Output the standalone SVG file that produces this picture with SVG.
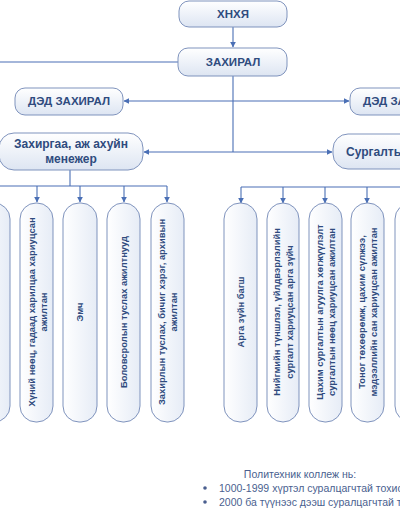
<svg xmlns="http://www.w3.org/2000/svg" width="400" height="516" viewBox="0 0 400 516">
<defs>
<linearGradient id="g" x1="0" y1="0" x2="0" y2="1">
<stop offset="0" stop-color="#ffffff"/>
<stop offset="1" stop-color="#dde5f2"/>
</linearGradient>
<linearGradient id="gv" x1="0" y1="0" x2="1" y2="0">
<stop offset="0" stop-color="#ffffff"/>
<stop offset="1" stop-color="#e6ecf6"/>
</linearGradient>
<marker id="ah" viewBox="0 0 10 10" refX="9" refY="5" markerWidth="6" markerHeight="6" orient="auto" markerUnits="userSpaceOnUse">
<path d="M0,0 L10,5 L0,10 z" fill="#4a6fb5"/>
</marker>
</defs>
<style>
.box{fill:url(#g);stroke:#7f93bd;stroke-width:1}
.vbox{fill:url(#gv);stroke:#7f93bd;stroke-width:1}
.t{font-family:"Liberation Sans",Arial,sans-serif;font-weight:bold;fill:#2f4b7e;text-anchor:middle}
.h{font-size:11.5px}
.m{font-size:12px}
.v{font-size:9.4px}
.c{fill:none;stroke:#4a6fb5;stroke-width:1.1}
.note{font-family:"Liberation Sans",Arial,sans-serif;font-size:10.5px;fill:#4a5f8f}
</style>
<rect width="400" height="516" fill="#ffffff"/>

<g id="connectors">
<line class="c" x1="233" y1="27" x2="233" y2="47" marker-end="url(#ah)"/>
<line class="c" x1="0" y1="62" x2="178" y2="62"/>
<line class="c" x1="233" y1="76" x2="233" y2="152"/>
<line class="c" x1="233" y1="101" x2="124" y2="101" marker-end="url(#ah)"/>
<line class="c" x1="233" y1="101" x2="349" y2="101" marker-end="url(#ah)"/>
<line class="c" x1="233" y1="152" x2="144" y2="152" marker-end="url(#ah)"/>
<line class="c" x1="233" y1="152" x2="332" y2="152" marker-end="url(#ah)"/>
<line class="c" x1="70" y1="170" x2="70" y2="186"/>
<line class="c" x1="0" y1="186" x2="167" y2="186"/>
<line class="c" x1="37" y1="186" x2="37" y2="202" marker-end="url(#ah)"/>
<line class="c" x1="80" y1="186" x2="80" y2="202" marker-end="url(#ah)"/>
<line class="c" x1="124" y1="186" x2="124" y2="202" marker-end="url(#ah)"/>
<line class="c" x1="167" y1="186" x2="167" y2="202" marker-end="url(#ah)"/>
<line class="c" x1="241" y1="187" x2="400" y2="187"/>
<line class="c" x1="241" y1="187" x2="241" y2="203" marker-end="url(#ah)"/>
<line class="c" x1="283" y1="187" x2="283" y2="203" marker-end="url(#ah)"/>
<line class="c" x1="325" y1="187" x2="325" y2="203" marker-end="url(#ah)"/>
<line class="c" x1="367" y1="187" x2="367" y2="203" marker-end="url(#ah)"/>
</g>

<g id="khnkhya">
<rect class="box" x="179" y="1" width="108" height="26" rx="10"/>
<text class="t h" x="233" y="18">ХНХЯ</text>
</g>
<g id="zakhiral">
<rect class="box" x="178" y="48" width="109" height="28" rx="10"/>
<text class="t h" x="233" y="66">ЗАХИРАЛ</text>
</g>
<g id="ded-zakhiral-left">
<rect class="box" x="15" y="88" width="108" height="27" rx="10"/>
<text class="t h" x="69" y="105">ДЭД ЗАХИРАЛ</text>
</g>
<g id="ded-zakhiral-right">
<rect class="box" x="350" y="88" width="108" height="27" rx="10"/>
<text class="t h" x="404" y="105">ДЭД ЗАХИРАЛ</text>
</g>
<g id="zakhirgaa">
<rect class="box" x="-1" y="133" width="144" height="37" rx="15"/>
<text class="t m" x="71" y="148">Захиргаа, аж ахуйн</text>
<text class="t m" x="71" y="163">менежер</text>
</g>
<g id="surgalt">
<rect class="box" x="333" y="134" width="150" height="35" rx="15"/>
<text class="t m" x="346" y="156" style="text-anchor:start">Сургалтын менежер</text>
</g>

<g id="l0">
<rect class="vbox" x="-23" y="203" width="33" height="219" rx="16"/>
</g>
<g id="l1">
<rect class="vbox" x="20" y="203" width="33" height="219" rx="16"/>
<g transform="translate(37.5,312) rotate(-90)">
<text class="t v" x="0" y="-3">Хүний нөөц, гадаад харилцаа хариуцсан</text>
<text class="t v" x="0" y="9.5">ажилтан</text>
</g>
</g>
<g id="l2">
<rect class="vbox" x="63" y="203" width="34" height="219" rx="16"/>
<text class="t v" transform="translate(80,312) rotate(-90)" x="0" y="3.3">Эмч</text>
</g>
<g id="l3">
<rect class="vbox" x="107" y="203" width="33" height="219" rx="16"/>
<text class="t v" transform="translate(124,312) rotate(-90)" x="0" y="3.3">Боловсролын туслах ажилтнууд</text>
</g>
<g id="l4">
<rect class="vbox" x="151" y="203" width="33" height="219" rx="16"/>
<g transform="translate(167.5,312) rotate(-90)">
<text class="t v" x="0" y="-3">Захирлын туслах, бичиг хэрэг, архивын</text>
<text class="t v" x="0" y="9.5">ажилтан</text>
</g>
</g>

<g id="r1">
<rect class="vbox" x="224" y="203" width="33" height="219" rx="16"/>
<text class="t v" transform="translate(240.5,312) rotate(-90)" x="0" y="3.3">Арга зүйн багш</text>
</g>
<g id="r2">
<rect class="vbox" x="267" y="203" width="32" height="219" rx="16"/>
<g transform="translate(283,312) rotate(-90)">
<text class="t v" x="0" y="-3">Нийгмийн түншлэл, үйлдвэрлэлийн</text>
<text class="t v" x="0" y="9.5">сургалт хариуцсан арга зүйч</text>
</g>
</g>
<g id="r3">
<rect class="vbox" x="309" y="203" width="33" height="219" rx="16"/>
<g transform="translate(325.5,312) rotate(-90)">
<text class="t v" x="0" y="-3">Цахим сургалтын агуулга хөгжүүлэлт</text>
<text class="t v" x="0" y="9.5">сургалтын нөөц хариуцсан ажилтан</text>
</g>
</g>
<g id="r4">
<rect class="vbox" x="351" y="203" width="33" height="219" rx="16"/>
<g transform="translate(367.5,312) rotate(-90)">
<text class="t v" x="0" y="-3">Тоног төхөөрөмж, цахим сүлжээ,</text>
<text class="t v" x="0" y="9.5">мэдээллийн сан хариуцсан ажилтан</text>
</g>
</g>
<g id="r5">
<rect class="vbox" x="395" y="203" width="33" height="219" rx="16"/>
</g>

<g id="note">
<text class="note" x="300" y="478" text-anchor="middle">Политехник коллеж нь:</text>
<circle cx="205" cy="488" r="1.8" fill="#4a5f8f"/>
<text class="note" x="219" y="492">1000-1999 хүртэл суралцагчтай тохиолдолд</text>
<circle cx="205" cy="502" r="1.8" fill="#4a5f8f"/>
<text class="note" x="219" y="506">2000 ба түүнээс дээш суралцагчтай тохиолдолд</text>
</g>
</svg>
